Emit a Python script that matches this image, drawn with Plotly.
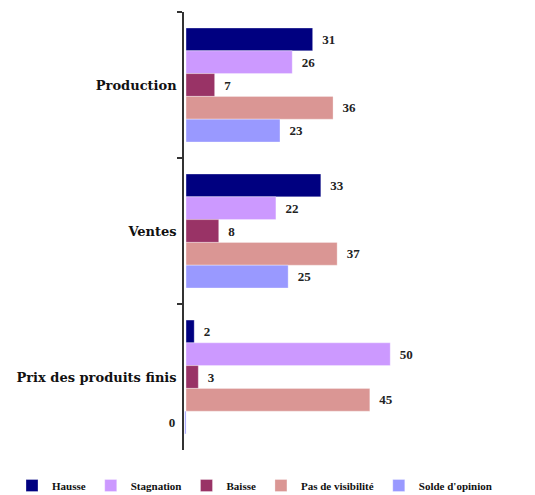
import plotly.graph_objects as go

categories = ["Production", "Ventes", "Prix des produits finis"]
series_names = ["Hausse", "Stagnation", "Baisse", "Pas de visibilité", "Solde d'opinion"]
hausse = [31, 33, 2]
stagnation = [26, 22, 50]
baisse = [7, 8, 3]
pas_visibilite = [36, 37, 45]
solde = [23, 25, -0.3]

values = [hausse, stagnation, baisse, pas_visibilite, solde]
colors = ["#000080", "#CC99FF", "#993366", "#DA9694", "#9999FF"]

# page body has an 8px margin, so the figure is sized/offset to compensate
W, H = 527, 487
L, R, T, B = 176, 10, 4, 45
plot_w = W - L - R
plot_h = H - T - B

PAD = "\u00a0\u00a0"


def label(v):
    s = f"{round(v)}"
    return s + PAD if v < 0 else PAD + s


fig = go.Figure()
for name, vals, col in zip(series_names, values, colors):
    fig.add_trace(go.Bar(
        y=categories, x=vals, name=f"<b>{name}</b>", orientation="h",
        marker=dict(color=col, line=dict(color="rgba(255,255,255,0.6)", width=0.5)),
        text=[label(v) for v in vals], texttemplate="<b>%{text}</b>",
        textposition="outside",
        textfont=dict(family="Liberation Serif", size=13, color="#222222"),
        cliponaxis=False,
    ))

fig.update_layout(
    width=W, height=H,
    barmode="group", bargap=0.22, bargroupgap=0,
    plot_bgcolor="white", paper_bgcolor="white",
    margin=dict(l=L, r=R, t=T, b=B, autoexpand=False),
    font=dict(family="Liberation Serif", color="#111111"),
    xaxis=dict(range=[-0.5, 83], visible=False, showgrid=False, zeroline=False),
    yaxis=dict(
        autorange="reversed", type="category", automargin=False,
        showline=True, linecolor="#333333", linewidth=1.5,
        ticks="outside", ticklen=5, tickcolor="#333333", tickwidth=1.5,
        tickson="boundaries", showgrid=False,
        tickprefix="<b>", ticksuffix="</b>",
        tickfont=dict(family="DejaVu Serif", size=13, color="#111111"),
        ticklabelstandoff=3,
    ),
    legend=dict(
        orientation="h",
        x=(4 - L) / plot_w, xanchor="left", y=-21 / plot_h, yanchor="top",
        font=dict(family="Liberation Serif", size=11, color="#111111"),
        itemwidth=30, tracegroupgap=0,
    ),
)

fig.write_html("out.html")
